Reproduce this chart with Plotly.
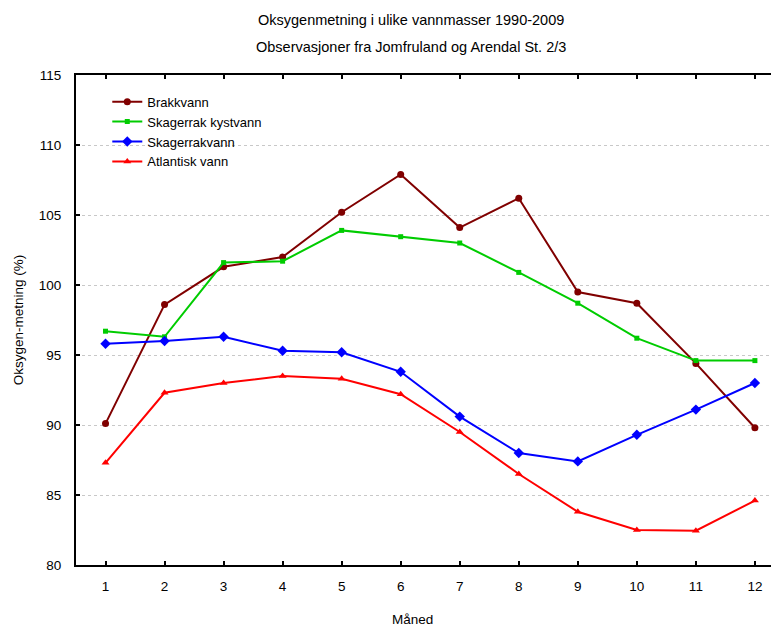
import plotly.graph_objects as go

months = [1, 2, 3, 4, 5, 6, 7, 8, 9, 10, 11, 12]
brakkvann = [90.1, 98.6, 101.3, 102.0, 105.2, 107.9, 104.1, 106.2, 99.5, 98.7, 94.4, 89.8]
skagerrak_kystvann = [96.7, 96.3, 101.6, 101.7, 103.9, 103.45, 103.0, 100.9, 98.7, 96.2, 94.6, 94.6]
skagerrakvann = [95.8, 96.0, 96.3, 95.3, 95.2, 93.8, 90.6, 88.0, 87.4, 89.3, 91.1, 93.0]
atlantisk_vann = [87.3, 92.3, 93.0, 93.5, 93.3, 92.2, 89.5, 86.5, 83.8, 82.5, 82.45, 84.6]

series_names = ["Brakkvann", "Skagerrak kystvann", "Skagerrakvann", "Atlantisk vann"]
series_values = [brakkvann, skagerrak_kystvann, skagerrakvann, atlantisk_vann]
colors = ["#800000", "#00CC00", "#0000FF", "#FF0000"]
symbols = ["circle", "square", "diamond", "triangle-up"]
sizes = [7, 5, 8, 7]

FONT = "Liberation Sans, Arial, sans-serif"

fig = go.Figure()
for name, vals, c, s, sz in zip(series_names, series_values, colors, symbols, sizes):
    fig.add_trace(go.Scatter(
        x=months, y=vals, name=name, mode="lines+markers",
        line=dict(color=c, width=2),
        marker=dict(color=c, symbol=s, size=sz),
    ))

# page body has an 8px default margin; lay out in figure coordinates = page - 8
OFF = 8
W, H = 779 - OFF, 628 - OFF
ml, mr, mt, mb = 75.7 - OFF, 0, 75 - OFF, 628 - 565
PW = W - ml - mr
PH = H - mt - mb


def px_x(page_x):
    return (page_x - OFF - ml) / PW


def px_y(page_y):
    return 1 - (page_y - OFF - mt) / PH


fig.update_layout(
    width=W, height=H,
    margin=dict(l=ml, r=mr, t=mt, b=mb, pad=0),
    paper_bgcolor="white", plot_bgcolor="white",
    font=dict(family=FONT, size=13, color="black"),
    showlegend=True,
    legend=dict(
        x=0.0445, y=0.976, xanchor="left", yanchor="top",
        bgcolor="rgba(0,0,0,0)", font=dict(size=13, family=FONT),
        tracegroupgap=0, itemwidth=30,
    ),
    annotations=[
        dict(text="Oksygenmetning i ulike vannmasser 1990-2009", xref="paper", yref="paper",
             x=px_x(411), y=px_y(20),
             xanchor="center", yanchor="middle", showarrow=False, font=dict(size=14.5)),
        dict(text="Observasjoner fra Jomfruland og Arendal St. 2/3", xref="paper", yref="paper",
             x=px_x(411), y=px_y(47),
             xanchor="center", yanchor="middle", showarrow=False, font=dict(size=14.5)),
        dict(text="Måned", xref="paper", yref="paper",
             x=px_x(412), y=px_y(619),
             xanchor="center", yanchor="middle", showarrow=False, font=dict(size=13.5)),
        dict(text="Oksygen-metning (%)", xref="paper", yref="paper",
             x=px_x(18), y=0.5, textangle=-90,
             xanchor="center", yanchor="middle", showarrow=False, font=dict(size=13.5)),
    ],
)

fig.update_xaxes(
    range=[0.5, 0.5 + PW / 59.06],
    tickmode="array", tickvals=months, ticktext=[str(m) for m in months],
    showgrid=False, zeroline=False,
    showline=True, linecolor="black", linewidth=2, mirror="ticks",
    ticks="inside", ticklen=4, tickwidth=1.5, tickcolor="black",
    ticklabelstandoff=8,
    tickfont=dict(size=13.5),
)
fig.update_yaxes(
    range=[80, 115],
    tickmode="array", tickvals=[80, 85, 90, 95, 100, 105, 110, 115],
    showgrid=True, gridcolor="#c8c8c8", griddash="dot", gridwidth=1,
    zeroline=False,
    showline=True, linecolor="black", linewidth=2, mirror=False,
    ticks="inside", ticklen=4, tickwidth=1.5, tickcolor="black",
    ticklabelstandoff=10,
    tickfont=dict(size=13.5),
)

fig.write_html("out.html")
